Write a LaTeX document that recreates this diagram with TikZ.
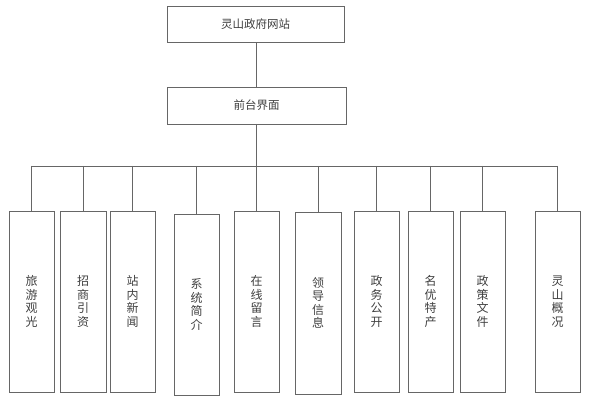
\documentclass[tikz,border=0pt]{standalone}
\usepackage{fontspec}
\setmainfont{Noto Sans CJK SC}
\begin{document}
\begin{tikzpicture}[x=1pt,y=-1pt,
  lin/.style={draw=black!60,line width=0.9pt},
  topbox/.style={lin,inner sep=0pt,outer sep=0pt,font=\fontsize{11.5}{13}\selectfont,text=black!75},
  leaf/.style={lin,inner sep=0pt,outer sep=0pt,align=center,font=\fontsize{12}{13.5}\selectfont,text=black!75}]
\useasboundingbox[fill=white] (0,0) rectangle (592,411);
\node[topbox,minimum width=177pt,minimum height=36pt] (root) at (255.5,24) {灵山政府网站};
\node[topbox,minimum width=179pt,minimum height=37pt] (front) at (256.5,105.5) {前台界面};
\coordinate (bus) at (0,166);
\node[leaf,minimum width=45pt,minimum height=181pt] (b1) at (31.5,301.5) {旅\\游\\观\\光};
\node[leaf,minimum width=46pt,minimum height=181pt] (b2) at (83,301.5) {招\\商\\引\\资};
\node[leaf,minimum width=45pt,minimum height=181pt] (b3) at (132.5,301.5) {站\\内\\新\\闻};
\node[leaf,minimum width=45pt,minimum height=181pt] (b4) at (196.5,304.5) {系\\统\\简\\介};
\node[leaf,minimum width=45pt,minimum height=181pt] (b5) at (256.5,301.5) {在\\线\\留\\言};
\node[leaf,minimum width=46pt,minimum height=182pt] (b6) at (318,303) {领\\导\\信\\息};
\node[leaf,minimum width=45pt,minimum height=181pt] (b7) at (376.5,301.5) {政\\务\\公\\开};
\node[leaf,minimum width=45pt,minimum height=181pt] (b8) at (430.5,301.5) {名\\优\\特\\产};
\node[leaf,minimum width=45pt,minimum height=181pt] (b9) at (482.5,301.5) {政\\策\\文\\件};
\node[leaf,minimum width=45pt,minimum height=181pt] (b10) at (557.5,301.5) {灵\\山\\概\\况};
\draw[lin] (front.north) -- (front.north |- root.south);
\draw[lin] (front.south) -- (b5.north);
\draw[lin] (b1.north |- bus) -- (b10.north |- bus);
\foreach \b in {b1,b2,b3,b4,b6,b7,b8,b9,b10}
  \draw[lin] (\b.north |- bus) -- (\b.north);
\end{tikzpicture}
\end{document}
